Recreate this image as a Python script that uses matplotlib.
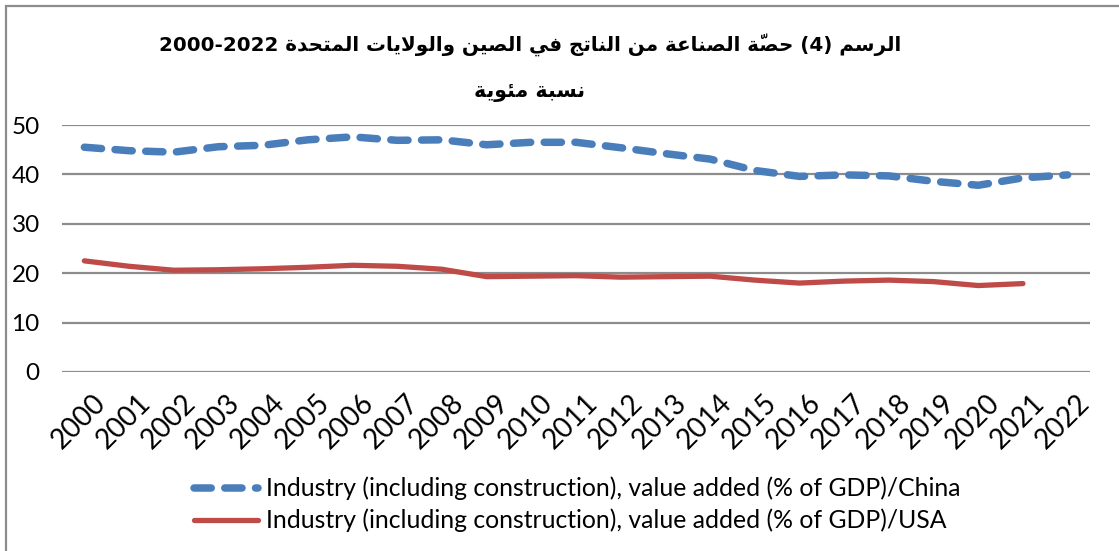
import matplotlib
matplotlib.use("Agg")
import matplotlib.pyplot as plt
import matplotlib.transforms as mtransforms
from matplotlib.patches import Rectangle

# ---------------------------------------------------------------------------
# Data (World Bank, industry incl. construction, value added, % of GDP)
# ---------------------------------------------------------------------------
YEARS = [str(y) for y in range(2000, 2023)]
CHINA = [45.5, 44.8, 44.5, 45.6, 45.9, 47.0, 47.6, 46.9, 47.0, 46.0, 46.5, 46.5,
         45.4, 44.2, 43.1, 40.8, 39.6, 39.9, 39.7, 38.6, 37.8, 39.3, 39.9]
USA = [22.5, 21.4, 20.6, 20.7, 20.9, 21.2, 21.6, 21.4, 20.8, 19.3, 19.4, 19.5,
       19.2, 19.3, 19.4, 18.6, 18.0, 18.4, 18.6, 18.3, 17.5, 17.9]
LABEL_CN = "Industry (including construction), value added (% of GDP)/China"
LABEL_US = "Industry (including construction), value added (% of GDP)/USA"
TITLE_1 = "الرسم (4) حصّة الصناعة من الناتج في الصين والولايات المتحدة 2000-2022"
TITLE_2 = "نسبة مئوية"

BLUE = "#4a7ebb"
RED = "#be4b48"
GRID = "#8c8c8c"

# ---------------------------------------------------------------------------
# Minimal Arabic shaping (matplotlib has no RTL / contextual shaping)
# forms: isolated, final, initial, medial
# ---------------------------------------------------------------------------
FORMS = {
    "ا": (0xFE8D, 0xFE8E, None, None),
    "د": (0xFEA9, 0xFEAA, None, None),
    "ر": (0xFEAD, 0xFEAE, None, None),
    "و": (0xFEED, 0xFEEE, None, None),
    "ة": (0xFE93, 0xFE94, None, None),
    "ب": (0xFE8F, 0xFE90, 0xFE91, 0xFE92),
    "ت": (0xFE95, 0xFE96, 0xFE97, 0xFE98),
    "ج": (0xFE9D, 0xFE9E, 0xFE9F, 0xFEA0),
    "ح": (0xFEA1, 0xFEA2, 0xFEA3, 0xFEA4),
    "س": (0xFEB1, 0xFEB2, 0xFEB3, 0xFEB4),
    "ص": (0xFEB9, 0xFEBA, 0xFEBB, 0xFEBC),
    "ع": (0xFEC9, 0xFECA, 0xFECB, 0xFECC),
    "ف": (0xFED1, 0xFED2, 0xFED3, 0xFED4),
    "ل": (0xFEDD, 0xFEDE, 0xFEDF, 0xFEE0),
    "م": (0xFEE1, 0xFEE2, 0xFEE3, 0xFEE4),
    "ن": (0xFEE5, 0xFEE6, 0xFEE7, 0xFEE8),
    "ي": (0xFEF1, 0xFEF2, 0xFEF3, 0xFEF4),
    "ئ": (0xFE89, 0xFE8A, 0xFE8B, 0xFE8C),
}
MARKS = {"\u0651"}


def shape_word(word):
    # group into clusters (base letter + marks), merge lam-alef
    clusters = []
    for ch in word:
        if ch in MARKS and clusters:
            clusters[-1][1] += ch
        elif ch == "ا" and clusters and clusters[-1][0] == "ل" and not clusters[-1][1]:
            clusters[-1][0] = "لا"
        else:
            clusters.append([ch, ""])

    def joins_next(base):
        return base in FORMS and FORMS[base][2] is not None

    out = []
    for i, (base, marks) in enumerate(clusters):
        prev_j = i > 0 and joins_next(clusters[i - 1][0])
        next_ok = i + 1 < len(clusters)
        if base == "لا":
            g = chr(0xFEFC if prev_j else 0xFEFB)
        else:
            iso, fin, ini, med = FORMS[base]
            nxt = next_ok and ini is not None
            if prev_j and nxt:
                g = chr(med)
            elif prev_j:
                g = chr(fin)
            elif nxt:
                g = chr(ini)
            else:
                g = chr(iso)
        # mark goes before its base in left-to-right drawing order
        out.append(marks + g)
    return "".join(reversed(out))


def visual(text):
    words = []
    for w in text.split(" "):
        if any(c in FORMS for c in w):
            words.append(shape_word(w))
        else:
            words.append(w)
    return " ".join(reversed(words))


# ---------------------------------------------------------------------------
# Figure
# ---------------------------------------------------------------------------
plt.rcParams["font.family"] = ["Lato", "DejaVu Sans"]

W, H = 1119, 551
fig = plt.figure(figsize=(W / 100, H / 100), dpi=100, facecolor="white")
ax = fig.add_axes([62 / W, 1 - 372 / H, (1090 - 62) / W, (372 - 125) / H])

x = list(range(len(YEARS)))
ax.plot(x, CHINA, color=BLUE, lw=5.4, dashes=(2.3, 1.8),
        dash_capstyle="round", solid_capstyle="round", label=LABEL_CN, zorder=3)
ax.plot(x[:len(USA)], USA, color=RED, lw=3.8, solid_capstyle="round",
        solid_joinstyle="round", label=LABEL_US, zorder=3)

ax.set_xlim(-0.5, len(YEARS) - 0.5)
ax.set_ylim(0, 50)
ax.set_yticks(range(0, 51, 10))
ax.grid(axis="y", color=GRID, lw=1.6)
ax.set_axisbelow(True)
for s in ax.spines.values():
    s.set_visible(False)

ax.set_xticks(x)
ax.set_xticklabels(YEARS, rotation=45, ha="right", va="top",
                   rotation_mode="anchor", fontsize=20)
ax.tick_params(axis="x", length=0, pad=13)
ax.tick_params(axis="y", length=0, pad=16, labelsize=17.5)
off = mtransforms.ScaledTranslation(6 / 72, 0, fig.dpi_scale_trans)
for lab in ax.get_xticklabels():
    lab.set_transform(lab.get_transform() + off)

fig.legend(loc="center left", bbox_to_anchor=(194 / W, 1 - 504.5 / H),
           frameon=False, fontsize=17.8, handlelength=2.6, handletextpad=0.32,
           labelspacing=0.33, borderpad=0, borderaxespad=0)

# Arabic title (shaped manually, bold)
fig.text(530 / W, 1 - 45 / H, visual(TITLE_1), ha="center", va="center",
         fontsize=14.3, fontweight="bold", family="DejaVu Sans")
fig.text(530 / W, 1 - 92 / H, visual(TITLE_2), ha="center", va="center",
         fontsize=14.8, fontweight="bold", family="DejaVu Sans")

# chart frame (left and top edges visible, rest cut by the image)
fig.patches.append(Rectangle((6 / W, -0.1), 1.2, 1 - 6 / H + 0.1,
                             transform=fig.transFigure, fill=False,
                             edgecolor=GRID, lw=1.6))

fig.savefig("out.png", dpi=100, facecolor="white")
